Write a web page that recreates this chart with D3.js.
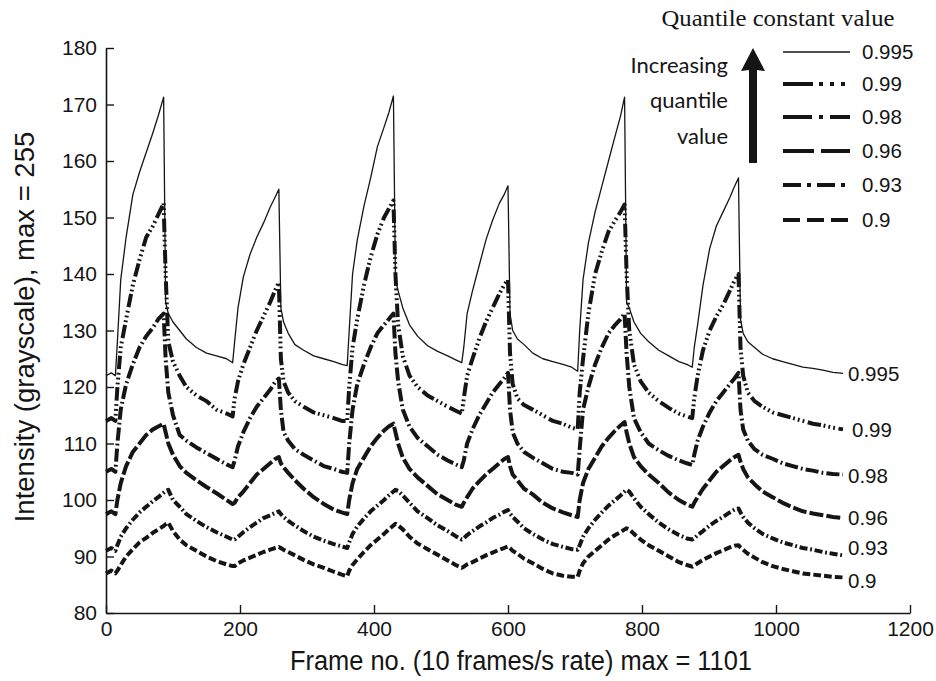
<!DOCTYPE html>
<html>
<head>
<meta charset="utf-8">
<script src="https://cdn.jsdelivr.net/npm/d3@7/dist/d3.min.js"></script>
<style>
	body { margin: 0; background: #fff; }
	svg { display: block; }
</style>
</head>
<body>
<svg id="chart" width="936" height="681"></svg>
<script>
/* --------------------------------------------
 * Quantile intensity traces
 * ============================================
 */

// frame numbers shared by every trace
var frames = [0, 8, 14,
	17, 22, 30, 40, 50, 60, 70, 78, 86,
	89, 93, 100, 110, 120, 135, 150, 165, 180, 189,
	192, 197, 205, 215, 225, 235, 245, 252, 258,
	261, 265, 272, 282, 295, 310, 325, 340, 352, 360,
	363, 368, 375, 385, 395, 405, 415, 422, 429,
	432, 436, 443, 453, 465, 480, 495, 510, 522, 531,
	534, 539, 547, 557, 567, 577, 587, 594, 600,
	603, 607, 614, 624, 637, 652, 667, 682, 695, 704,
	707, 712, 720, 730, 740, 750, 760, 768, 774,
	777, 781, 788, 798, 810, 825, 840, 855, 867, 875,
	878, 883, 891, 901, 911, 921, 931, 938, 944,
	947, 951, 958, 968, 980, 995, 1010, 1025, 1040, 1055, 1070, 1085, 1100];

var q995 = [122, 122.5, 122,
	128, 139, 146.5, 154, 158, 161.5, 165, 168, 171.3,
	135, 133, 131.5, 130, 128.5, 127, 126, 125.5, 125, 124.3,
	128, 134, 139.5, 143.5, 146.5, 149, 151.8, 153.5, 155,
	134, 131.5, 129.5, 127.5, 126.5, 125.5, 125, 124.5, 124, 123.8,
	130, 140, 146, 152, 157, 162.5, 166, 168.5, 171.5,
	139, 137, 134, 131, 129, 127.3, 126.3, 125.5, 124.8, 124.3,
	127, 133, 137, 141.5, 146, 149.5, 152.5, 154, 155.6,
	133, 130, 128.5, 127.5, 126, 125, 124.5, 124, 123.5, 122.8,
	130, 139, 145.5, 151, 155.5, 160, 164.5, 168, 171.3,
	135, 134, 131.5, 129.5, 128, 126.5, 125.5, 124.5, 124, 123.5,
	127, 131, 138, 144.5, 148.5, 151, 153.5, 155.5, 157,
	132, 129.5, 128, 127, 125.8, 125, 124.5, 124, 123.5, 123.3, 123, 122.6, 122.4];

var q99 = [114, 114.5, 114,
	120, 127, 132, 138, 142.5, 146.5, 148.5, 150.5, 152.5,
	140, 128, 124.5, 122, 120, 118.5, 117.5, 116, 115.3, 114.8,
	118, 121, 124, 127, 130, 132.5, 135, 137, 138.5,
	125, 121, 119, 117.5, 116.5, 115.5, 115, 114.5, 114, 114,
	120, 127, 132, 138, 143, 147, 150, 151.5, 153,
	140, 131, 125.5, 122, 120, 118.5, 117.5, 116.5, 115.8, 115.3,
	118, 122, 125, 128.5, 131.5, 134, 136.5, 138, 139,
	126, 120.5, 118, 116.8, 116, 115, 114, 113.5, 112.8, 112.5,
	119, 125, 133, 140, 144, 147.5, 149.5, 151, 152.3,
	140, 130, 124, 121, 119, 117.5, 116.3, 115.3, 114.8, 114.5,
	118, 122, 126.5, 130, 132.5, 134.5, 137, 138.8, 140,
	127, 122, 119, 117.5, 116.5, 115.5, 115, 114.5, 114, 113.5, 113.2, 112.8, 112.5];

var q98 = [105, 105.5, 105,
	110, 116, 120.5, 124, 127, 129, 130.5, 132, 133,
	125, 119, 115, 111.5, 110.5, 109.3, 108.3, 107.3, 106.3, 105.8,
	107, 109.5, 112, 114.5, 116.5, 118, 119.5, 120.8, 121.5,
	116, 112, 110.5, 109, 108, 107, 106, 105.5, 105, 104.8,
	110, 116, 120.5, 124, 127, 129.5, 131, 132, 133,
	126, 121, 116, 113, 111, 109.5, 108, 107, 106.3, 105.8,
	107, 110, 112.5, 115, 117, 119, 120.5, 121.5, 122.5,
	116, 112, 110, 108.5, 107.5, 106.5, 105.5, 105, 104.8, 104.5,
	109, 116, 120, 124, 127, 129.5, 131, 132, 133,
	126, 120, 114.5, 112, 110, 108.8, 107.8, 107, 106.5, 106.2,
	108, 110.5, 113, 115.5, 117.5, 119, 120.5, 121.5, 122.5,
	116, 112.5, 110.5, 109, 108, 107.3, 106.5, 106, 105.5, 105.2, 104.8, 104.6, 104.5];

var q96 = [97.5, 98, 97.5,
	100, 103, 106, 108.5, 110, 111.5, 112.5, 113, 113.5,
	112, 110, 108, 106, 104.8, 103.5, 102.3, 101.2, 100, 99.3,
	99.5, 100.5, 101.5, 103, 104.5, 105.5, 106.5, 107.2, 107.6,
	106.5, 105.8, 104.8, 103.5, 102, 100.5, 99.3, 98.3, 97.8, 97.5,
	100, 103, 105.5, 107.5, 109.5, 111, 112.3, 113, 113.5,
	112, 110, 107.5, 105.5, 104, 102.5, 101, 100, 99.2, 98.8,
	99.5, 100.5, 102, 103.3, 104.5, 105.5, 106.5, 107.2, 107.6,
	106, 104.5, 103.5, 102, 101, 99.5, 98.5, 97.8, 97.3, 97,
	100, 103, 105.5, 107.5, 109.5, 111, 112.3, 113.2, 113.8,
	112, 110, 107.6, 106, 104.5, 103, 101.3, 100, 99.2, 98.8,
	99.5, 100.5, 102, 103.5, 105, 106, 107, 107.6, 108,
	106.8, 105.5, 104, 102.8, 101.5, 100.5, 99.5, 98.7, 98, 97.6, 97.3, 97, 96.8];

var q93 = [91, 91.5, 91,
	92, 93.5, 95, 96.5, 97.8, 98.8, 99.8, 100.5, 101.3,
	101.6, 101.8, 100, 98.8, 97.5, 96.3, 95.2, 94.3, 93.5, 93,
	93, 93.5, 94.3, 95.2, 96, 96.8, 97.3, 97.7, 98,
	97.5, 97, 96.3, 95.5, 94.5, 93.5, 92.8, 92.2, 91.8, 91.5,
	92.5, 94, 95.3, 96.7, 98, 99, 100, 100.8, 101.5,
	101.8, 101.6, 100.8, 99.5, 98, 96.8, 95.5, 94.5, 93.6, 93,
	93.2, 93.8, 94.5, 95.3, 96, 96.8, 97.4, 97.9, 98.2,
	97.6, 97, 96.2, 95, 94, 93, 92.2, 91.7, 91.3, 91.2,
	92, 93.5, 95, 96.5, 97.8, 99, 100, 100.8, 101.5,
	101.8, 101.5, 100.3, 98.8, 97.5, 96, 94.8, 93.8, 93.2, 93,
	93.2, 93.8, 94.5, 95.5, 96.3, 97, 97.8, 98.3, 98.5,
	97.8, 97, 96, 95, 94, 93.2, 92.5, 92, 91.5, 91.2, 90.8, 90.5, 90.2];

var q90 = [87, 87.5, 87,
	87.5, 88.5, 90, 91.3, 92.5, 93.3, 94.2, 94.8, 95.4,
	95.7, 96, 94.5, 93, 92, 91, 90, 89.2, 88.6, 88.3,
	88.3, 88.8, 89.3, 89.8, 90.3, 90.8, 91.2, 91.5, 91.7,
	91.5, 91.2, 90.8, 90.2, 89.4, 88.6, 88, 87.3, 86.8, 86.5,
	87.5, 88.5, 89.5, 90.8, 92, 93, 94, 94.8, 95.5,
	95.8, 95.5, 94.8, 93.5, 92.3, 91.3, 90.3, 89.3, 88.5, 88,
	88.2, 88.6, 89, 89.6, 90.2, 90.7, 91.2, 91.5, 91.8,
	91.5, 91, 90.5, 89.6, 88.8, 87.8, 87, 86.6, 86.4, 86.4,
	87.5, 88.8, 90, 91, 92, 93, 93.8, 94.3, 94.8,
	95, 94.8, 94, 93, 92, 91, 90, 89, 88.5, 88.2,
	88.4, 88.8, 89.4, 90, 90.6, 91.1, 91.6, 91.9, 92,
	91.6, 91.2, 90.5, 89.8, 89, 88.3, 87.8, 87.4, 87, 86.8, 86.6, 86.4, 86.3];

var seriesNames = ["0.995", "0.99", "0.98", "0.96", "0.93", "0.9"];
var seriesValues = [q995, q99, q98, q96, q93, q90];
// value at which each right-hand label sits
var endLabelValues = [122.3, 112.4, 104.4, 96.8, 91.5, 85.8];

var xTicks = [0, 200, 400, 600, 800, 1000, 1200];
var yTicks = [80, 90, 100, 110, 120, 130, 140, 150, 160, 170, 180];

var X_TITLE = "Frame no. (10 frames/s rate) max = 1101";
var Y_TITLE = "Intensity (grayscale), max = 255";
var LEGEND_TITLE = "Quantile  constant value";
var ARROW_TEXT = ["Increasing", "quantile", "value"];

// line styles, same order as seriesNames
var STYLES = [
	{ width: 1.3, dash: null },
	{ width: 4, dash: "30,6,4,7,4,7,4,8" },
	{ width: 4, dash: "29,7,4,7" },
	{ width: 4, dash: "31,7" },
	{ width: 4, dash: "18,6,4,6" },
	{ width: 4, dash: "17,7" }
];
var PLOT_DASH_SCALE = 0.45;
var INK = "#151515";
var SANS = "Arial, 'Liberation Sans', sans-serif";

var svg = d3.select("#chart");

var x = d3.scaleLinear().domain([0, 1200]).range([106, 910]);
var y = d3.scaleLinear().domain([80, 180]).range([613, 48]);

// axes
var gx = svg.append("g")
	.attr("transform", "translate(0," + y(80) + ")")
	.call(d3.axisBottom(x).tickValues(xTicks).tickFormat(d3.format("d"))
		.tickSizeInner(-8).tickSizeOuter(0).tickPadding(8));

var gy = svg.append("g")
	.attr("transform", "translate(" + x(0) + ",0)")
	.call(d3.axisLeft(y).tickValues(yTicks).tickFormat(d3.format("d"))
		.tickSizeInner(-8).tickSizeOuter(0).tickPadding(9));

[gx, gy].forEach(function(g) {
	g.select(".domain").attr("stroke", INK).attr("stroke-width", 1.6);
	g.selectAll(".tick line").attr("stroke", INK).attr("stroke-width", 1.4);
	g.selectAll(".tick text")
		.attr("font-family", SANS)
		.attr("font-size", 21)
		.attr("fill", INK);
});

// axis titles
svg.append("text")
	.attr("x", 521)
	.attr("y", 670)
	.attr("text-anchor", "middle")
	.attr("font-family", SANS)
	.attr("font-size", 27)
	.attr("textLength", 462)
	.attr("lengthAdjust", "spacingAndGlyphs")
	.attr("fill", INK)
	.text(X_TITLE);

svg.append("text")
	.attr("transform", "translate(34,327) rotate(-90)")
	.attr("text-anchor", "middle")
	.attr("font-family", SANS)
	.attr("font-size", 27.5)
	.attr("fill", INK)
	.text(Y_TITLE);

// traces
var line = d3.line()
	.x(function(d, i) { return x(frames[i]); })
	.y(function(d) { return y(d); });

function scaledDash(dash, k) {
	if (!dash) return null;
	return dash.split(",").map(function(v) { return (+v * k).toFixed(1); }).join(",");
}

var traces = svg.append("g").attr("class", "traces");
for (var i = seriesValues.length - 1; i >= 0; i--)
{
	traces.append("path")
		.attr("d", line(seriesValues[i]))
		.attr("fill", "none")
		.attr("stroke", INK)
		.attr("stroke-width", STYLES[i].width)
		.attr("stroke-linejoin", "round")
		.attr("stroke-dasharray", scaledDash(STYLES[i].dash, PLOT_DASH_SCALE));
}

// labels at the right end of each trace
svg.append("g").selectAll("text")
	.data(seriesNames)
	.enter().append("text")
	.attr("x", function(d, i) { return i == 1 ? 852 : 848; })
	.attr("y", function(d, i) { return y(endLabelValues[i]); })
	.attr("dy", "0.36em")
	.attr("font-family", SANS)
	.attr("font-size", 20.5)
	.attr("fill", INK)
	.text(function(d) { return d; });

// legend
var LEG_X0 = 783, LEG_X1 = 850, LEG_TEXT_X = 862;
var LEG_ROWS = [52, 84, 117, 151, 185, 220];

svg.append("text")
	.attr("x", 778)
	.attr("y", 26)
	.attr("text-anchor", "middle")
	.attr("font-family", "'Liberation Serif', 'Times New Roman', serif")
	.attr("font-size", 24)
	.attr("textLength", 233)
	.attr("lengthAdjust", "spacingAndGlyphs")
	.attr("fill", INK)
	.text(LEGEND_TITLE);

var leg = svg.append("g").attr("class", "legend");
seriesNames.forEach(function(name, i) {
	leg.append("line")
		.attr("x1", LEG_X0).attr("x2", LEG_X1)
		.attr("y1", LEG_ROWS[i]).attr("y2", LEG_ROWS[i])
		.attr("stroke", INK)
		.attr("stroke-width", STYLES[i].width)
		.attr("stroke-dasharray", STYLES[i].dash);
	leg.append("text")
		.attr("x", LEG_TEXT_X)
		.attr("y", LEG_ROWS[i])
		.attr("dy", "0.36em")
		.attr("font-family", SANS)
		.attr("font-size", 20.5)
		.attr("fill", INK)
		.text(name);
});

// arrow for increasing quantile
var AX = 753;
leg.append("path")
	.attr("d", "M" + (AX - 4) + ",163 L" + (AX - 4) + ",70 L" + (AX - 12) + ",71 L" + AX + ",48 L" +
		(AX + 12) + ",71 L" + (AX + 4) + ",70 L" + (AX + 4) + ",163 Z")
	.attr("fill", INK);

var ARROW_BASE = [73, 108, 144];
ARROW_TEXT.forEach(function(t, i) {
	leg.append("text")
		.attr("x", 728)
		.attr("y", ARROW_BASE[i])
		.attr("text-anchor", "end")
		.attr("font-family", "Lato, 'Open Sans', sans-serif")
		.attr("font-size", 22)
		.attr("fill", INK)
		.text(t);
});
</script>
</body>
</html>
